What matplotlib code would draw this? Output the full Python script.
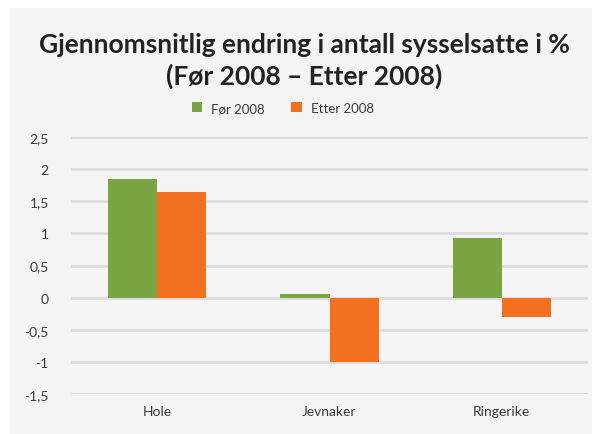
import numpy as np
import matplotlib
matplotlib.use("Agg")
import matplotlib.pyplot as plt
from matplotlib.patches import Rectangle

kommuner = ["Hole", "Jevnaker", "Ringerike"]
for_2008 = [1.85, 0.05, 0.93]
etter_2008 = [1.64, -1.00, -0.30]
serier = ["Før 2008", "Etter 2008"]
yticks = [-1.5, -1, -0.5, 0, 0.5, 1, 1.5, 2, 2.5]

green = "#7aa542"
orange = "#f37021"
bg = "#f3f4f3"
grid = "#dcdcdc"
txt = "#3a3a3a"

plt.rcParams["font.family"] = ["Lato", "DejaVu Sans"]

fig = plt.figure(figsize=(5.92, 4.35), dpi=100)
fig.patch.set_facecolor("white")
fig.patches.append(Rectangle((10 / 592, 0), 1, 1 - 9 / 435, transform=fig.transFigure,
                             facecolor=bg, edgecolor="none", zorder=-10))

ax = fig.add_axes([71 / 592, 1 - 395 / 435, (588 - 71) / 592, (395 - 138) / 435])
ax.set_facecolor("none")

x = np.arange(len(kommuner))
w = 0.285
ax.bar(x - w / 2, for_2008, w, color=green, label=serier[0], zorder=3)
ax.bar(x + w / 2, etter_2008, w, color=orange, label=serier[1], zorder=3)

ax.set_xlim(-0.5, len(kommuner) - 0.5)
ax.set_ylim(-1.5, 2.5)
ax.set_yticks(yticks)
ax.set_yticklabels([("%g" % v).replace(".", ",") for v in yticks])
ax.set_xticks(x)
ax.set_xticklabels(kommuner)
ax.tick_params(length=0, labelsize=10, colors=txt)
ax.tick_params(axis="y", pad=16)
ax.tick_params(axis="x", pad=8)
ax.yaxis.grid(True, color=grid, linewidth=2, zorder=0)
for s in ax.spines.values():
    s.set_visible(False)

fig.text(0.514, 1 - 61 / 435, "Gjennomsnitlig endring i antall sysselsatte i %\n(Før 2008 – Etter 2008)",
         ha="center", va="center", fontsize=19, fontweight="bold", color="#222222", linespacing=1.3)

fig.legend(loc="center", bbox_to_anchor=(0.478, 1 - 109 / 435), ncol=2, frameon=False,
           fontsize=9.5, handlelength=0.8, handleheight=0.8, columnspacing=2.0,
           handletextpad=0.7, labelcolor=txt)

fig.savefig("out.png", dpi=100)
